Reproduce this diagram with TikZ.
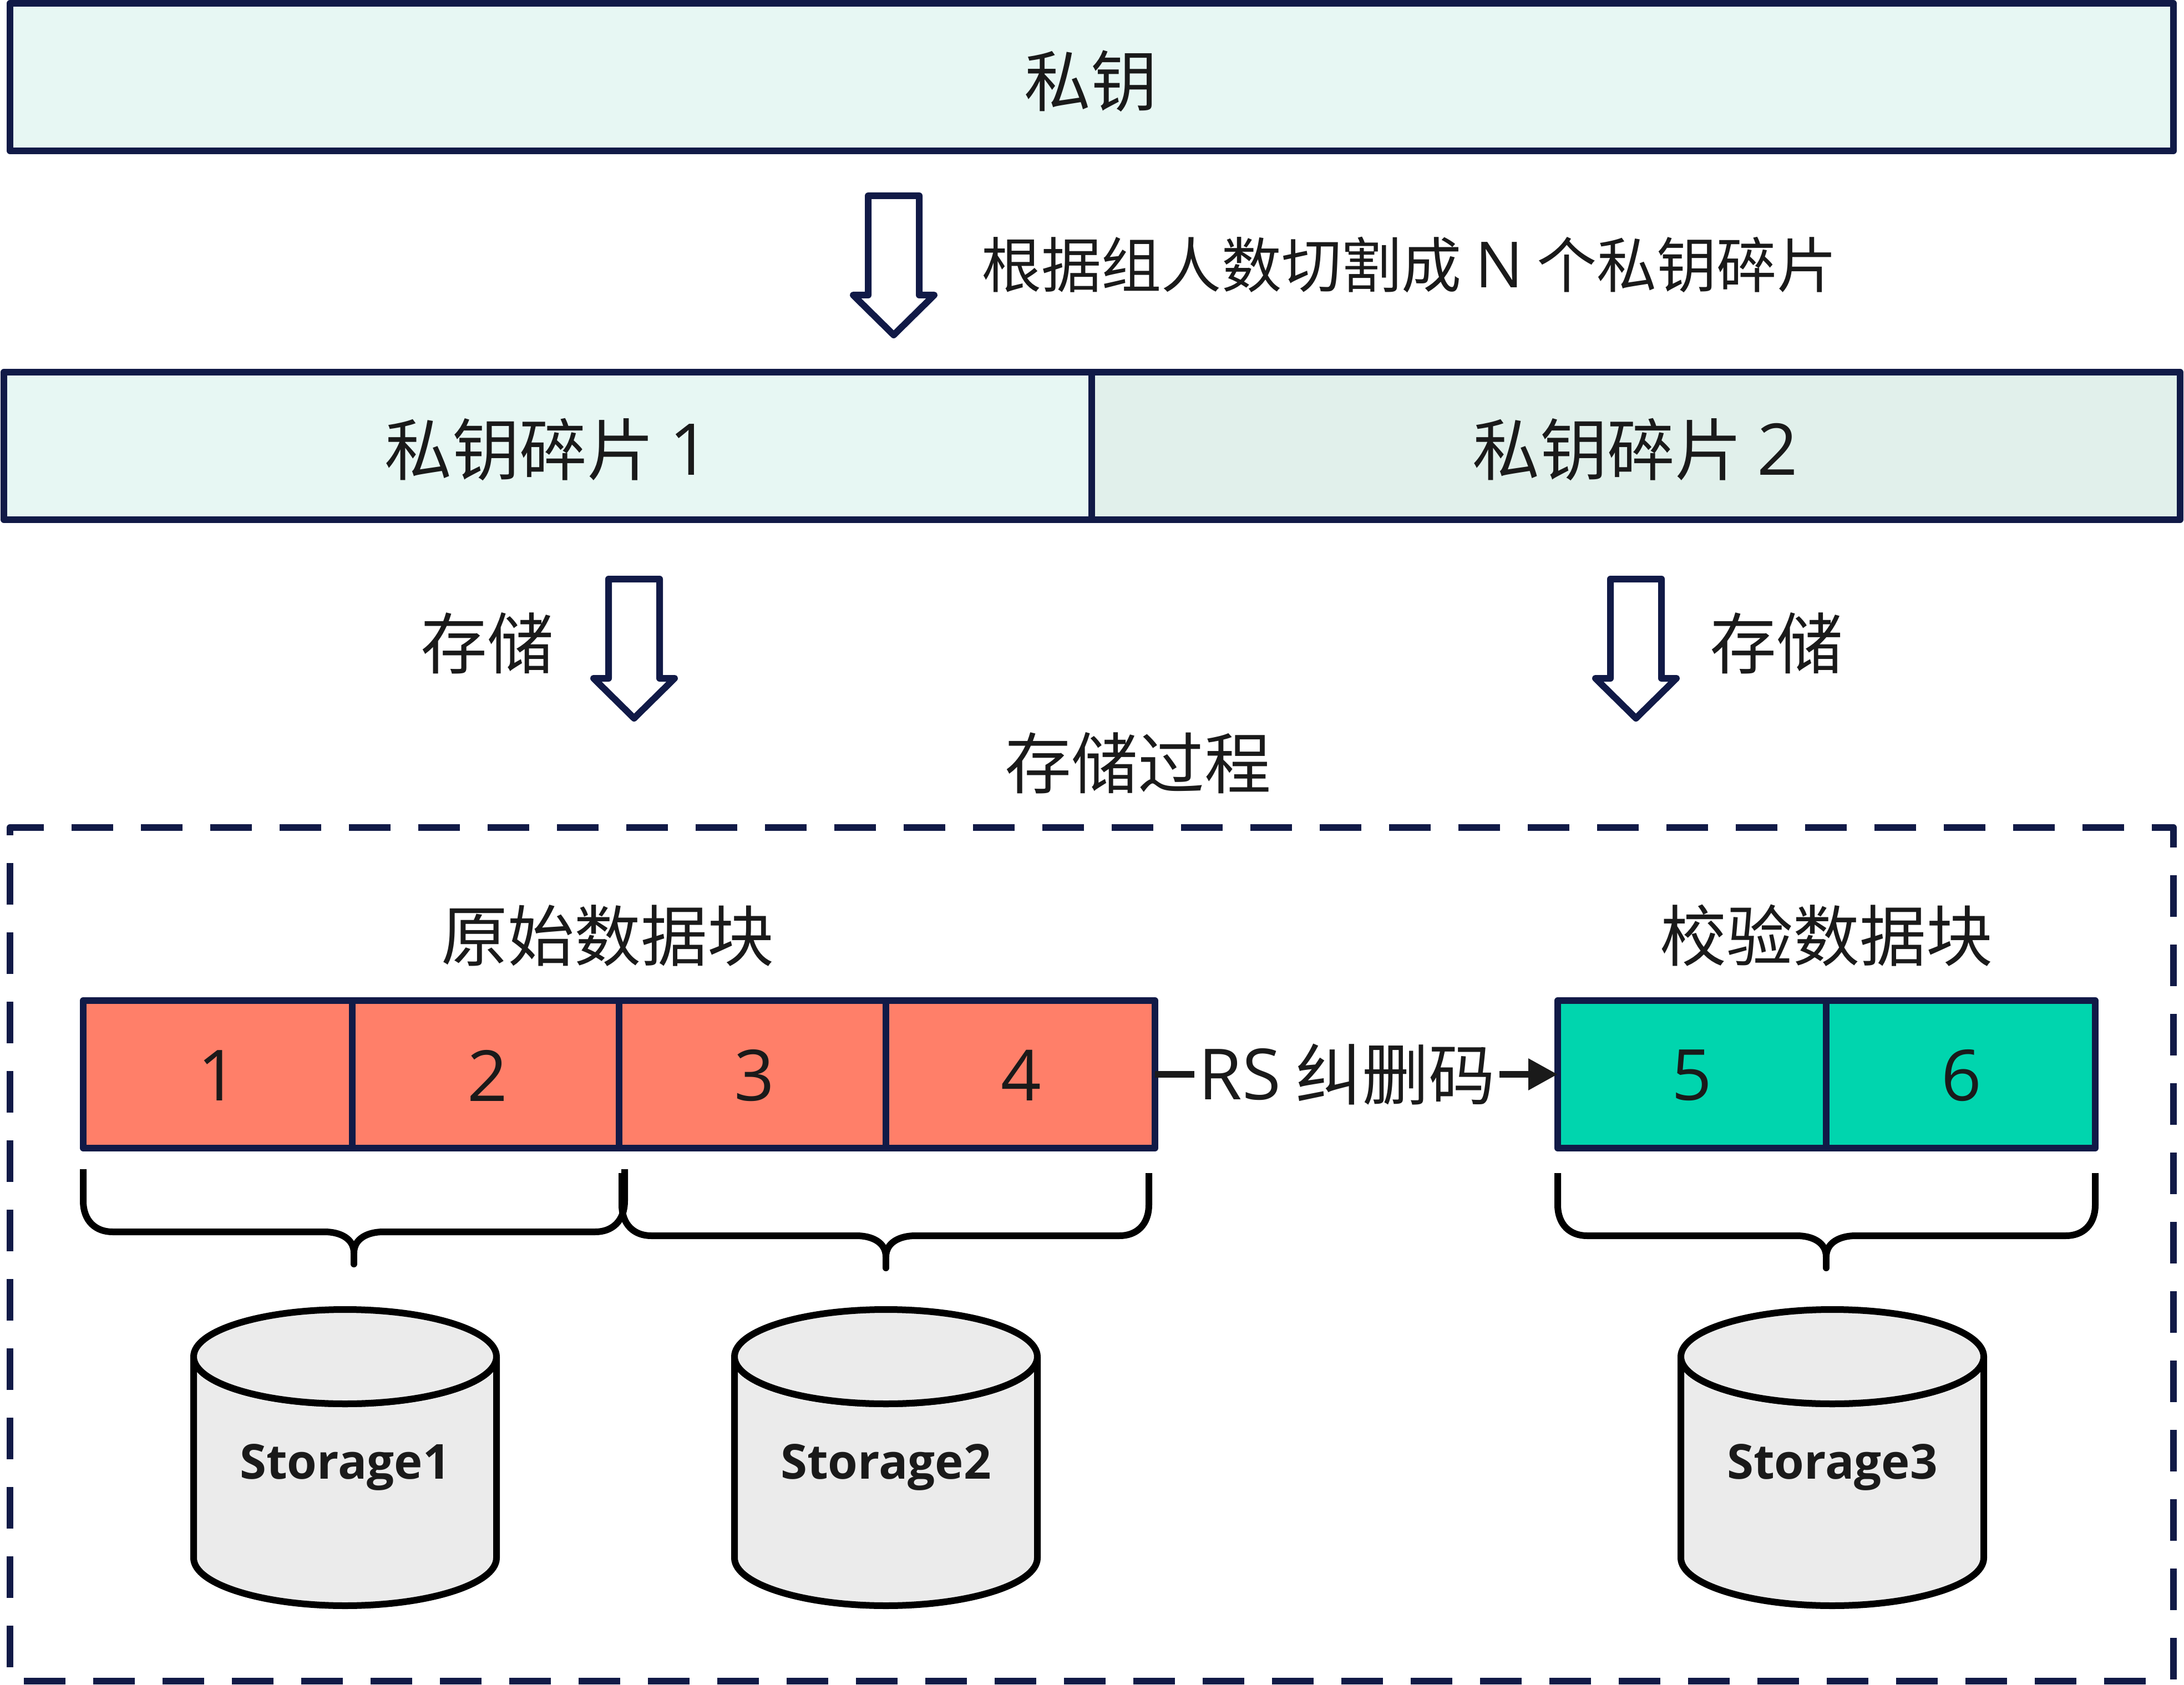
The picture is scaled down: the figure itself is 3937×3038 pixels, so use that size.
\documentclass[tikz,border=0pt]{standalone}
\usepackage{fontspec}
\setmainfont{Noto Sans CJK SC}
\newfontfamily\latinf[Scale=1.06]{Open Sans}
\usetikzlibrary{arrows.meta}
\definecolor{navy}{HTML}{111A47}
\definecolor{ink}{HTML}{1A1A1A}
\definecolor{palea}{HTML}{E7F7F3}
\definecolor{paleb}{HTML}{E1F0EB}
\definecolor{redc}{HTML}{FF7F69}
\definecolor{tealc}{HTML}{00D5AE}
\definecolor{cylc}{HTML}{EBEBEB}
\def\px{0.2pt}
\tikzset{
  txt/.style={text=ink,font=\fontsize{24}{28}\selectfont,inner sep=0pt,outer sep=0pt},
  boxn/.style={draw=navy,line width=2.4pt,inner sep=0pt,outer sep=0pt,text=ink,font=\fontsize{24}{28}\selectfont,anchor=center,line join=round},
  rowbox/.style={boxn,minimum height=266*\px},
  cellbox/.style={boxn,minimum height=266*\px,fill=redc},
  tealbox/.style={boxn,minimum height=266*\px,fill=tealc},
  blockarrow/.style={draw=navy,line width=2.4pt,fill=white,line join=round},
  bracel/.style={draw=black,line width=2.4pt,line join=round},
  cyl/.style={draw=black,line width=2.4pt,fill=cylc,line join=round},
  cyllabel/.style={text=ink,font=\latinf\bfseries\fontsize{16.4}{20}\selectfont,inner sep=0pt},
}
\newcommand{\blockarr}[2]{%
  \draw[blockarrow] (#1-46,#2) -- (#1+46,#2) -- (#1+46,#2+179) -- (#1+73,#2+179) -- (#1,#2+251) -- (#1-73,#2+179) -- (#1-46,#2+179) -- cycle;}
\newcommand{\bracepath}[5]{% left, mid, right, top, bar
  \draw[bracel] (#1,#4) -- (#1,#5-56) .. controls (#1,#5-20) and (#1+22,#5) .. (#1+53,#5)
    -- (#2-53,#5) .. controls (#2-25,#5) and (#2,#5+12) .. (#2,#5+38)
    .. controls (#2,#5+12) and (#2+25,#5) .. (#2+53,#5) -- (#3-53,#5)
    .. controls (#3-22,#5) and (#3,#5-20) .. (#3,#5-56) -- (#3,#4);
  \draw[bracel,line cap=round] (#2,#5+34) -- (#2,#5+58);}
\newcommand{\cylinder}[1]{%
  \draw[cyl] (#1-273,2446) -- (#1-273,2809) .. controls (#1-273,2856) and (#1-150,2895) .. (#1,2895)
    .. controls (#1+150,2895) and (#1+273,2856) .. (#1+273,2809) -- (#1+273,2446)
    arc[start angle=0,end angle=-180,x radius=273,y radius=-85];
  \draw[cyl] (#1,2446) ellipse[x radius=273,y radius=85];}
\begin{document}
\begin{tikzpicture}[x=0.2pt,y=-0.2pt]
\useasboundingbox (0,0) rectangle (3937,3038);
\fill[white] (0,0) rectangle (3937,3038);

\node[rowbox,fill=palea,minimum width=3900*\px] (key) at (1968,139) {};
\node[txt] (keyt) at (1966,146) {私钥};

\blockarr{1611}{353}
\node[txt,anchor=west,font=\fontsize{21.65}{26}\selectfont] (cut) at (1769,477) {根据组人数切割成 {\latinf N} 个私钥碎片};

\node[rowbox,fill=palea,minimum width=1961*\px] (s1) at (987.5,804) {};
\node[rowbox,fill=paleb,minimum width=1962*\px] (s2) at (2949,804) {};
\node[txt,font=\fontsize{24.3}{28}\selectfont] (s1t) at (987,811) {私钥碎片 {\latinf 1}};
\node[txt,font=\fontsize{24.3}{28}\selectfont] (s2t) at (2948,811) {私钥碎片 {\latinf 2}};

\blockarr{1143}{1044}
\blockarr{2949}{1044}
\node[txt] (st1) at (878,1160) {存储};
\node[txt] (st2) at (3202,1160) {存储};
\node[txt] (proc) at (2051,1376) {存储过程};

\draw[navy,line width=2.4pt,line join=round,dash pattern=on 75*\px off 50*\px,dash phase=75*\px] (3918,3031) -- (18,3031) -- (18,1492) -- (3918,1492) -- cycle;

\node[txt] (raw) at (1095,1687) {原始数据块};
\node[txt] (chk) at (3292,1687) {校验数据块};

\node[cellbox,minimum width=485*\px] (c1) at (392.5,1937) {};
\node[cellbox,minimum width=481*\px] (c2) at (875.5,1937) {};
\node[cellbox,minimum width=481*\px] (c3) at (1356.5,1937) {};
\node[cellbox,minimum width=485*\px] (c4) at (1839.5,1937) {};
\node[tealbox,minimum width=484*\px] (c5) at (3050,1937) {};
\node[tealbox,minimum width=485*\px] (c6) at (3534.5,1937) {};
\node[txt] at (393,1939) {\latinf 1};
\node[txt] at (879,1939) {\latinf 2};
\node[txt] at (1360,1939) {\latinf 3};
\node[txt] at (1841,1939) {\latinf 4};
\node[txt] at (3050,1939) {\latinf 5};
\node[txt] at (3536,1939) {\latinf 6};

\draw[ink,line width=2.5pt,-{Triangle[length=10.6pt,width=10.8pt]}] (c4.east) -- node[txt,fill=white,inner xsep=1.5pt,inner ysep=0pt,pos=0.477] (rs) {{\latinf RS} 纠删码} (c5.west);

\bracepath{150}{638}{1126}{2108}{2221}
\bracepath{1121}{1597}{2071}{2115}{2228}
\bracepath{2808}{3292}{3777}{2115}{2228}

\cylinder{622}
\cylinder{1597}
\cylinder{3303}
\node[cyllabel] (d1) at (622,2645) {Storage1};
\node[cyllabel] (d2) at (1597,2645) {Storage2};
\node[cyllabel] (d3) at (3303,2645) {Storage3};
\end{tikzpicture}
\end{document}
